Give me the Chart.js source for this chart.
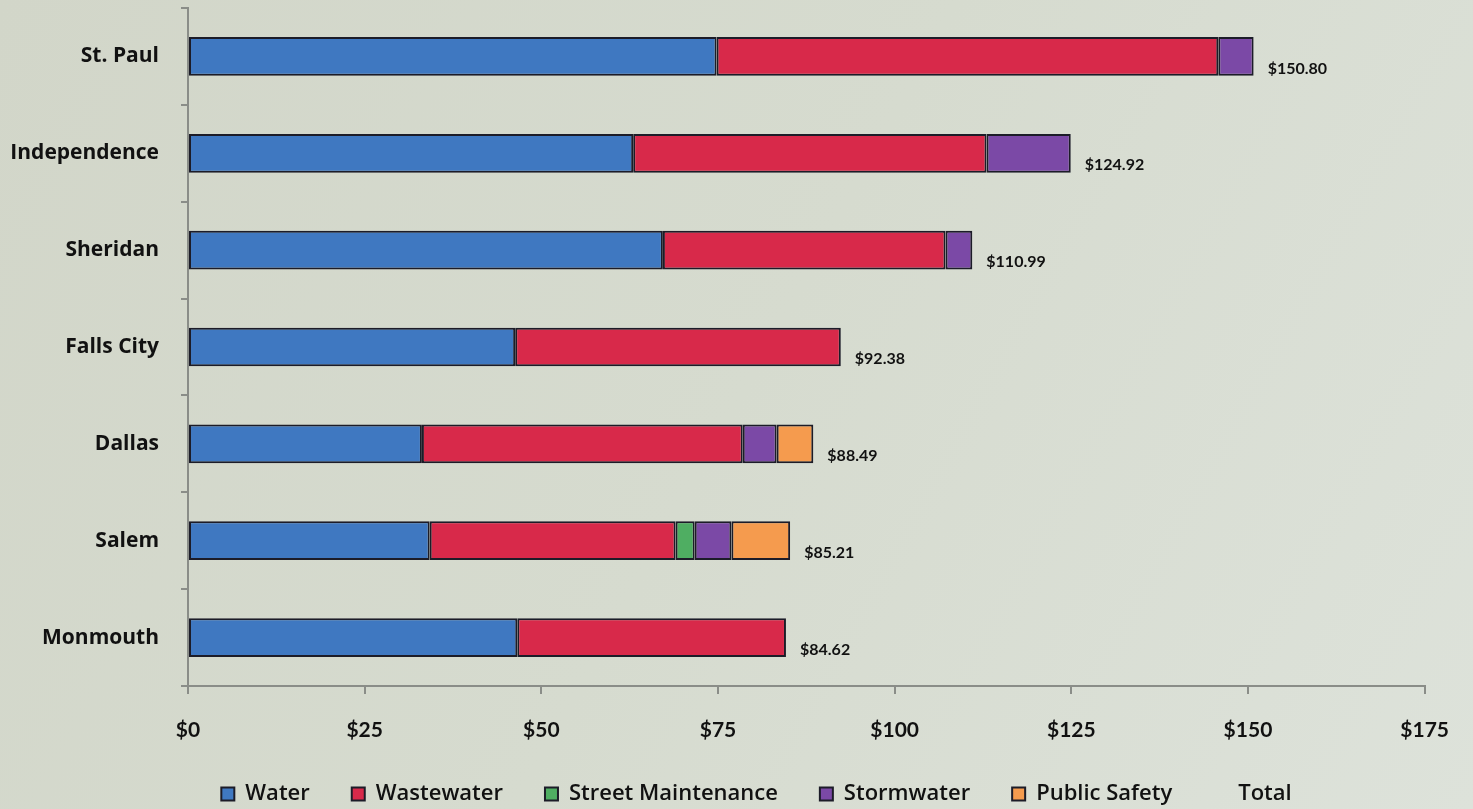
<!DOCTYPE html>
<html>
<head>
<meta charset="utf-8">
<script src="https://cdn.jsdelivr.net/npm/chart.js@4.4.1/dist/chart.umd.min.js"></script>
<style>
html,body{margin:0;padding:0;background:#d5dacd;}
#wrap{width:1473px;height:809px;position:relative;}
</style>
</head>
<body>
<div id="wrap"><canvas id="c" width="1473" height="809"></canvas></div>
<script>
const cities = ["St. Paul","Independence","Sheridan","Falls City","Dallas","Salem","Monmouth"];
const water = [74.8, 63.0, 67.2, 46.3, 33.1, 34.2, 46.6];
const wastewater = [71.0, 50.0, 40.0, 46.08, 45.4, 34.8, 38.02];
const streetMaintenance = [0, 0, 0, 0, 0, 2.7, 0];
const stormwater = [5.0, 11.92, 3.79, 0, 4.8, 5.2, 0];
const publicSafety = [0, 0, 0, 0, 5.19, 8.31, 0];
const totals = [150.80, 124.92, 110.99, 92.38, 88.49, 85.21, 84.62];
const totalLabels = ["$150.80","$124.92","$110.99","$92.38","$88.49","$85.21","$84.62"];
const xTicks = [0, 25, 50, 75, 100, 125, 150, 175];

const LEGEND_PAD = 42;
const LEGEND_FONT = 22;
const LEFT_PAD = 86;

const bgPlugin = {
  id: 'bg',
  beforeDraw(chart) {
    const {ctx, width, height} = chart;
    const g = ctx.createLinearGradient(0, 0, width, height);
    g.addColorStop(0, '#d2d6c9');
    g.addColorStop(0.5, '#d6dbcf');
    g.addColorStop(1, '#dde2da');
    ctx.save();
    ctx.fillStyle = g;
    ctx.fillRect(0, 0, width, height);
    ctx.restore();
  }
};

const totalPlugin = {
  id: 'totals',
  afterDatasetsDraw(chart) {
    const {ctx} = chart;
    const xs = chart.scales.x, ys = chart.scales.y;
    ctx.save();
    ctx.font = 'bold 16px Lato, "Open Sans", sans-serif';
    ctx.fillStyle = '#111';
    ctx.textAlign = 'left';
    ctx.textBaseline = 'middle';
    totals.forEach((t, i) => {
      const x = xs.getPixelForValue(t) + 14;
      const y = ys.getPixelForValue(i) + 12;
      ctx.fillText(totalLabels[i], x, y);
    });
    ctx.restore();
  }
};

const border = '#1c1c28';
const mk = (label, data, color) => ({
  label, data, backgroundColor: color, borderColor: border, borderWidth: 2,
  borderSkipped: false, barPercentage: 0.4, categoryPercentage: 1.0
});

new Chart(document.getElementById('c'), {
  type: 'bar',
  data: {
    labels: cities,
    datasets: [
      mk('Water', water, '#3f78c1'),
      mk('Wastewater', wastewater, '#d8294a'),
      mk('Street Maintenance', streetMaintenance, '#4fae62'),
      mk('Stormwater', stormwater, '#7b49a6'),
      mk('Public Safety', publicSafety, '#f59b4e'),
      {label: 'Total', data: cities.map(() => 0), backgroundColor: 'rgba(0,0,0,0)', borderColor: 'rgba(0,0,0,0)', borderWidth: 0, barPercentage: 0.4, categoryPercentage: 1.0}
    ]
  },
  options: {
    indexAxis: 'y',
    responsive: false,
    animation: false,
    layout: {padding: {left: LEFT_PAD, right: 46, top: 8, bottom: -6}},
    scales: {
      x: {
        stacked: true,
        min: 0, max: 175,
        afterBuildTicks(scale) { scale.ticks = xTicks.map(v => ({value: v})); },
        afterFit(scale) { scale.height = 119 - LEGEND_FONT - LEGEND_PAD; },
        border: {display: true, color: '#8a8d88', width: 2},
        grid: {display: true, drawOnChartArea: false, drawTicks: true, tickLength: 8, color: '#8a8d88', lineWidth: 2},
        ticks: {
          callback: v => '$' + v,
          color: '#111',
          padding: 24,
          font: {family: 'Lato, "Open Sans", sans-serif', size: 21, weight: 'bold'}
        }
      },
      y: {
        stacked: true,
        afterFit(scale) {
          scale.width = 188 - LEFT_PAD;
          scale.paddingTop = 0;
          scale.paddingBottom = 0;
          scale._computeLabelArea = function () { return undefined; };
        },
        border: {display: true, color: '#8a8d88', width: 2},
        grid: {display: true, drawOnChartArea: false, offset: true, tickLength: 7, color: '#8a8d88', lineWidth: 2},
        ticks: {
          color: '#111',
          padding: 22,
          font: {family: '"Open Sans", Lato, sans-serif', size: 21, weight: 'bold'}
        }
      }
    },
    plugins: {
      legend: {
        position: 'bottom',
        labels: {
          color: '#111',
          boxWidth: 13,
          boxHeight: 13,
          padding: LEGEND_PAD,
          font: {family: '"Open Sans", Lato, sans-serif', size: LEGEND_FONT, weight: '600'},
          generateLabels(chart) {
            return chart.data.datasets.map((ds, i) => ({
              text: ds.label,
              fillStyle: ds.backgroundColor,
              strokeStyle: i === 5 ? 'rgba(0,0,0,0)' : border,
              lineWidth: i === 5 ? 0 : 2,
              fontColor: '#111',
              hidden: false,
              datasetIndex: i
            }));
          }
        }
      },
      tooltip: {enabled: false}
    }
  },
  plugins: [bgPlugin, totalPlugin]
});
</script>
</body>
</html>
